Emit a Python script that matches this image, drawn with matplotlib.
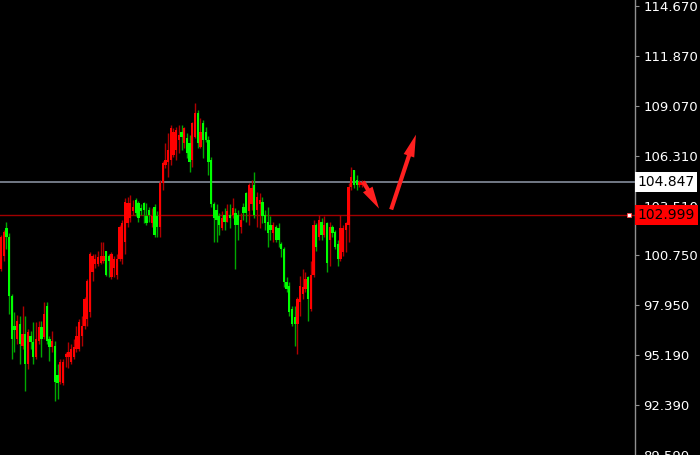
import matplotlib
matplotlib.use("Agg")
import matplotlib.pyplot as plt
import matplotlib.transforms as mtransforms
import numpy as np

# candle data (price units)
opens = [99.95, 100.68, 102.29, 101.74, 98.45, 96.78, 96.05, 96.89, 95.66, 96.33,
         94.66, 96.22, 95.88, 95.05, 95.94, 96.72, 96.16, 97.89, 96.05, 95.61,
         95.66, 94.05, 93.66, 93.60, 95.05, 95.05, 94.77, 95.05, 95.49, 95.49,
         96.22, 96.78, 97.17, 97.56, 99.79, 100.23, 100.23, 100.34, 100.40, 100.96,
         100.68, 99.51, 100.06, 99.67, 100.51, 100.51, 101.51, 102.57, 102.85, 103.19,
         103.85, 103.69, 103.41, 103.69, 102.91, 103.30, 102.57, 103.46, 102.91, 102.35,
         104.80, 105.80, 105.97, 106.08, 106.36, 106.64, 107.20, 107.64, 107.03, 107.31,
         107.03, 106.08, 107.37, 108.70, 106.81, 108.15, 107.64, 107.20, 106.08, 103.58,
         103.30, 102.91, 102.29, 103.02, 102.63, 103.02, 103.02, 103.13, 103.02, 102.35,
         103.46, 104.24, 103.19, 103.58, 104.69, 103.30, 103.58, 103.74, 103.02, 102.63,
         102.46, 102.01, 102.35, 102.29, 101.35, 101.07, 99.23, 99.01, 97.72, 97.28,
         96.89, 98.11, 98.56, 98.84, 99.51, 97.72, 99.67, 102.46, 101.74, 102.63,
         101.90, 102.57, 101.62, 102.35, 102.07, 101.35, 100.51, 100.90, 102.18, 102.46,
         104.58, 105.53, 104.97, 104.69, 104.69]
closes = [101.74, 102.07, 101.74, 98.45, 96.05, 96.55, 97.05, 95.77, 96.33, 94.66,
          96.44, 95.88, 95.05, 96.05, 96.72, 96.05, 97.45, 95.94, 95.61, 95.94,
          93.66, 93.60, 94.77, 94.77, 95.22, 95.33, 95.49, 95.61, 96.22, 97.00,
          96.78, 98.28, 99.28, 100.79, 100.68, 100.51, 100.62, 100.68, 100.68, 99.67,
          100.40, 100.79, 100.51, 100.51, 102.35, 102.57, 103.74, 103.69, 103.69, 103.46,
          103.13, 102.85, 103.19, 103.30, 102.57, 103.02, 102.91, 101.90, 102.35, 104.80,
          105.92, 106.08, 106.64, 107.87, 107.64, 107.76, 107.48, 107.37, 107.87, 106.47,
          105.97, 108.15, 108.70, 107.03, 107.64, 107.20, 107.20, 105.97, 103.58, 102.85,
          102.74, 102.46, 102.85, 102.63, 103.19, 102.85, 103.41, 102.46, 102.46, 102.74,
          103.13, 103.13, 104.69, 104.52, 103.02, 104.02, 103.85, 102.91, 102.57, 102.01,
          102.18, 102.46, 101.62, 101.62, 101.07, 99.23, 98.84, 97.56, 96.89, 96.89,
          98.28, 99.01, 98.95, 99.40, 98.28, 99.67, 102.46, 101.18, 102.74, 101.90,
          102.46, 100.34, 102.35, 102.01, 101.23, 100.51, 102.29, 102.29, 102.57, 104.58,
          105.14, 104.69, 104.69, 104.86, 104.80]
highs = [101.85, 102.18, 102.63, 102.01, 98.56, 97.56, 97.39, 97.33, 97.89, 97.33,
         96.61, 96.50, 97.00, 97.00, 97.05, 97.05, 98.11, 98.11, 96.22, 96.50,
         95.94, 94.66, 94.94, 94.94, 95.33, 95.88, 95.77, 96.05, 96.78, 97.17,
         97.33, 98.39, 99.40, 100.90, 100.79, 100.79, 100.96, 101.46, 101.46, 101.01,
         100.79, 100.90, 100.68, 100.79, 102.46, 102.74, 103.97, 104.02, 104.13, 103.85,
         103.97, 103.80, 103.58, 103.74, 103.69, 103.46, 103.41, 103.58, 103.19, 104.97,
         106.03, 107.03, 107.59, 108.03, 107.87, 107.92, 108.03, 108.03, 107.92, 107.59,
         107.48, 108.20, 109.26, 108.87, 108.42, 108.31, 107.92, 107.42, 106.25, 103.74,
         103.58, 103.13, 103.19, 103.41, 103.58, 103.58, 103.97, 103.41, 103.30, 103.13,
         103.69, 104.30, 104.80, 104.97, 105.41, 104.30, 104.24, 104.02, 103.30, 103.46,
         102.91, 102.63, 102.46, 102.57, 101.51, 101.18, 99.51, 99.23, 97.89, 97.89,
         98.39, 99.56, 99.95, 99.79, 99.56, 100.40, 102.74, 102.57, 103.02, 102.85,
         102.91, 102.63, 102.63, 102.46, 102.18, 101.62, 103.02, 102.46, 102.63, 104.80,
         105.69, 105.53, 105.25, 104.97, 104.97]
lows = [99.84, 100.40, 101.07, 97.45, 94.94, 95.33, 95.77, 94.66, 95.49, 93.15,
        94.38, 95.49, 94.66, 94.94, 95.77, 95.05, 96.05, 95.77, 94.83, 95.33,
        92.60, 92.71, 93.54, 93.49, 94.49, 94.44, 94.66, 94.94, 95.33, 95.38,
        95.66, 96.61, 96.78, 97.28, 99.28, 100.06, 100.12, 100.23, 100.29, 99.56,
        99.51, 99.40, 99.51, 99.40, 100.40, 100.23, 100.79, 102.35, 102.63, 103.02,
        102.91, 102.63, 103.02, 102.57, 102.46, 102.63, 102.35, 101.74, 101.79, 101.74,
        104.41, 105.64, 105.14, 105.80, 106.25, 106.08, 106.47, 106.64, 106.75, 106.19,
        105.41, 105.69, 107.31, 106.75, 106.75, 106.19, 107.09, 105.25, 103.46, 101.51,
        101.51, 101.90, 102.18, 102.18, 102.63, 102.29, 102.85, 99.95, 101.62, 102.01,
        102.74, 102.63, 102.46, 103.30, 102.85, 102.35, 102.29, 102.57, 102.18, 101.18,
        101.62, 101.51, 101.46, 101.23, 100.62, 98.95, 98.67, 97.33, 96.78, 95.66,
        95.22, 97.33, 98.28, 98.67, 97.05, 97.61, 99.51, 100.96, 101.62, 101.62,
        101.74, 99.79, 100.12, 101.79, 101.07, 100.12, 100.40, 100.73, 100.90, 101.46,
        104.41, 104.52, 104.41, 104.58, 104.58]

tick_values = [114.670, 111.870, 109.070, 106.310, 103.510, 100.750, 97.950, 95.190, 92.390, 89.590]
ask_price = 104.847
bid_price = 102.999

# hand drawn arrows (data coords)
arrow_down = ((134.4, 104.86), (140.3, 103.35))
arrow_up = ((144.8, 103.30), (154.0, 107.48))

opens = np.array(opens)
closes = np.array(closes)
highs = np.array(highs)
lows = np.array(lows)
x = np.arange(len(opens))
up = closes >= opens

fig = plt.figure(figsize=(7, 4.55), dpi=100, facecolor='black')
ax = fig.add_axes([0, 0, 635 / 700, 1])
ax.set_facecolor('black')

# wicks
ax.vlines(x[up], lows[up], highs[up], color='#b00000', linewidth=1.0, zorder=2)
ax.vlines(x[~up], lows[~up], highs[~up], color='#00a800', linewidth=1.0, zorder=2)
# bodies
body = np.maximum(np.abs(closes - opens), 0.08)
bottom = np.minimum(opens, closes)
ax.bar(x[up], body[up], bottom=bottom[up], width=0.85, color='#ff0000', linewidth=0, zorder=3)
ax.bar(x[~up], body[~up], bottom=bottom[~up], width=0.85, color='#00ff00', linewidth=0, zorder=3)

# price lines
ax.axhline(ask_price, color='#7a8290', linewidth=1.3, zorder=1)
ax.axhline(bid_price, color='#a00000', linewidth=1.0, zorder=1)
ax.plot([233.2], [bid_price], marker='s', markersize=2.5, markerfacecolor='white',
        markeredgecolor='#ff4040', markeredgewidth=0.6, clip_on=False, zorder=4)

# arrows
for (x0, y0), (x1, y1) in (arrow_down, arrow_up):
    ax.annotate('', xy=(x1, y1), xytext=(x0, y0),
                arrowprops=dict(arrowstyle='simple,head_width=0.8,head_length=1.6,tail_width=0.3',
                                color='#ff2020', lw=0, shrinkA=0, shrinkB=0), zorder=5)

ax.set_xlim(-0.37, 235.3)
ax.set_ylim(115.0 - 0.05573 * 455, 115.0)

ax.yaxis.tick_right()
ax.set_yticks(tick_values)
ax.set_yticklabels(['%.3f' % v for v in tick_values])
ax.tick_params(axis='y', colors='#909090', labelcolor='white', length=3, width=0.8,
               pad=3, labelsize=9.5)
ax.set_xticks([])
for side in ['left', 'top', 'bottom']:
    ax.spines[side].set_visible(False)
ax.spines['right'].set_color('#909090')
ax.spines['right'].set_linewidth(1.0)

trans = mtransforms.blended_transform_factory(ax.transAxes, ax.transData)
ax.text(1.004, ask_price, '104.847', transform=trans, ha='left', va='center',
        fontsize=10, color='black', clip_on=False, zorder=6,
        bbox=dict(boxstyle='square,pad=0.2', facecolor='white', edgecolor='none'))
ax.text(1.004, bid_price, '102.999', transform=trans, ha='left', va='center',
        fontsize=10, color='black', clip_on=False, zorder=6,
        bbox=dict(boxstyle='square,pad=0.2', facecolor='#ff0000', edgecolor='none'))

fig.savefig('out.png', dpi=100, facecolor='black')
